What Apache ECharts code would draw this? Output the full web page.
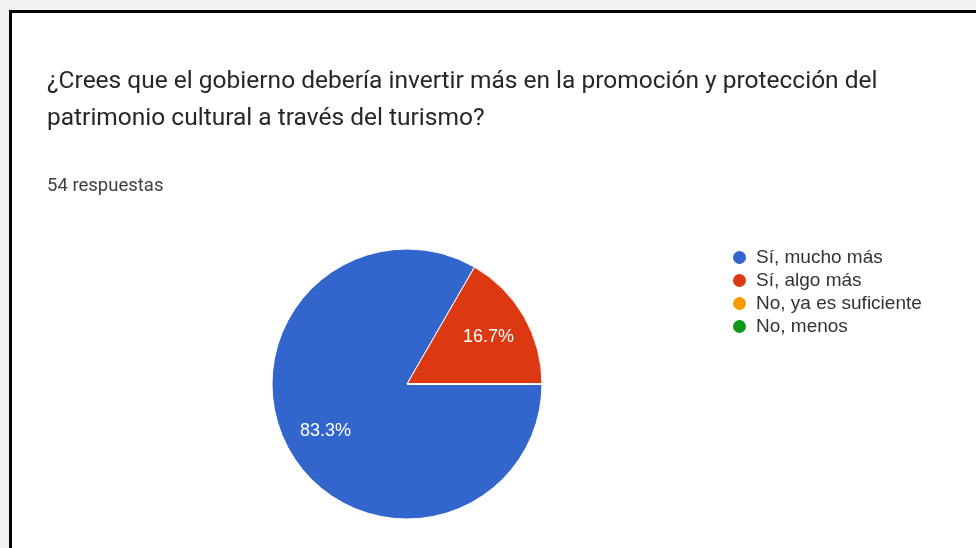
<!DOCTYPE html>
<html>
<head>
<meta charset="utf-8">
<script src="https://cdn.jsdelivr.net/npm/echarts@6/dist/echarts.min.js"></script>
<style>
html,body{margin:0;padding:0;width:976px;height:548px;overflow:hidden;background:#f2f2f2;}
#frame{position:absolute;left:9px;top:10px;right:0;bottom:0;border-left:3px solid #000;border-top:3px solid #000;background:#fff;}
#chart{position:absolute;left:0;top:0;width:976px;height:548px;}
</style>
</head>
<body>
<div id="frame"></div>
<div id="chart"></div>
<script>
const titleText = "¿Crees que el gobierno debería invertir más en la promoción y protección del\npatrimonio cultural a través del turismo?";
const subtitleText = "54 respuestas";
const categories = ["Sí, mucho más", "Sí, algo más", "No, ya es suficiente", "No, menos"];
const counts = [45, 9, 0, 0];
const colors = ["#3366cc", "#dc3912", "#ff9900", "#109618"];

const data = categories.map((c, i) => ({ name: c, value: counts[i], itemStyle: { color: colors[i] } }));
const total = counts.reduce((a, b) => a + b, 0);

const chart = echarts.init(document.getElementById('chart'), null, { renderer: 'canvas' });
chart.setOption({
  backgroundColor: 'transparent',
  animation: false,
  title: [
    { text: titleText, left: 42, top: 58,
      textStyle: { fontFamily: 'Roboto', fontSize: 24.5, fontWeight: 'normal', color: '#26272a', lineHeight: 37 } },
    { text: subtitleText, left: 42, top: 170,
      textStyle: { fontFamily: 'Roboto', fontSize: 18.5, fontWeight: 'normal', color: '#3c4043', lineHeight: 22 } }
  ],
  legend: {
    orient: 'vertical', left: 726, top: 243,
    icon: 'circle', itemWidth: 15, itemHeight: 15, itemGap: 4,
    data: categories,
    textStyle: { fontFamily: 'Liberation Sans, Arial', fontSize: 19, lineHeight: 19, color: '#333', padding: [0, 0, 0, 4] }
  },
  series: [
    {
      type: 'pie', center: [407, 384], radius: 135, startAngle: 0, clockwise: true,
      data: data, label: { show: false }, labelLine: { show: false },
      itemStyle: { borderColor: '#fff', borderWidth: 1 },
      emphasis: { disabled: true }
    },
    {
      type: 'pie', center: [407, 384], radius: [47, 135], startAngle: 0, clockwise: true,
      silent: true, legendHoverLink: false,
      data: categories.map((c, i) => ({ name: c, value: counts[i], itemStyle: { color: 'rgba(0,0,0,0)' } })),
      label: {
        show: true, position: 'inside', color: '#fff',
        fontFamily: 'Liberation Sans, Arial', fontSize: 18,
        formatter: p => p.value > 0 ? (p.value / total * 100).toFixed(1) + '%' : ''
      },
      labelLine: { show: false },
      itemStyle: { borderWidth: 0 },
      emphasis: { disabled: true }
    }
  ]
});
</script>
</body>
</html>
